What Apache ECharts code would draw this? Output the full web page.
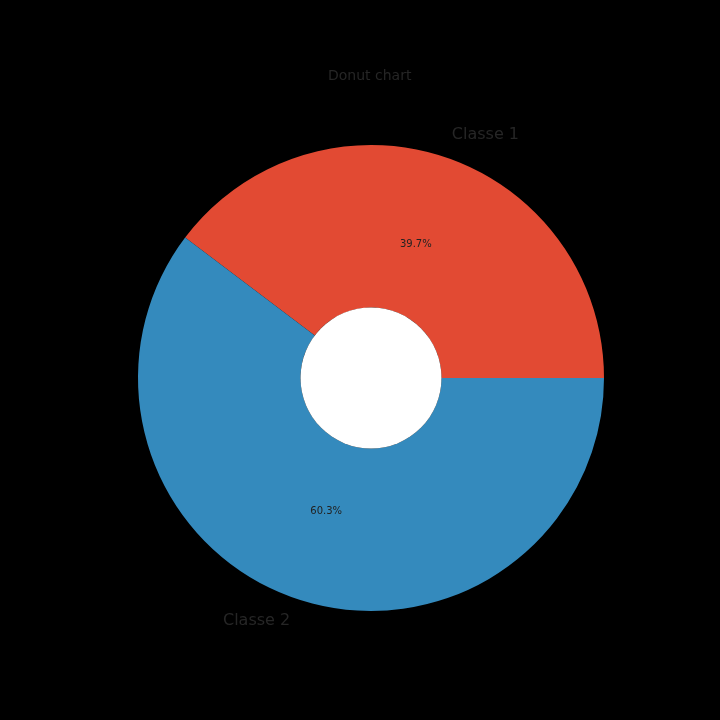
<!DOCTYPE html>
<html>
<head>
<meta charset="utf-8">
<script src="https://cdn.jsdelivr.net/npm/echarts@6/dist/echarts.min.js"></script>
<style>html,body{margin:0;padding:0;background:#000;}#c{width:720px;height:720px;}</style>
</head>
<body>
<div id="c"></div>
<script>
var categories = ['Classe 1', 'Classe 2'];
var values = [39.7, 60.3];
var colors = ['#E24A33', '#348ABD'];
var titleText = 'Donut chart';

var chart = echarts.init(document.getElementById('c'));
var FONT = 'DejaVu Sans';
var center = [371, 378];

function mk(fn) {
  return categories.map(function (c, i) { return fn(c, i); });
}

chart.setOption({
  backgroundColor: '#000000',
  animation: false,
  title: {
    text: titleText,
    left: 328, top: 69, padding: 0,
    textStyle: { color: '#262626', fontSize: 14, fontWeight: 'normal', fontFamily: FONT }
  },
  series: [
    {
      type: 'pie', center: center, radius: [70.5, 233],
      startAngle: 0, clockwise: false, silent: true,
      label: { show: false }, labelLine: { show: false },
      data: mk(function (c, i) { return { name: c, value: values[i], itemStyle: { color: colors[i], borderWidth: 0 } }; })
    },
    {
      type: 'pie', center: center, radius: [0, 70.5], silent: true,
      label: { show: false }, labelLine: { show: false },
      data: [{ name: 'hole', value: 1, itemStyle: { color: '#ffffff' } }]
    },
    {
      type: 'pie', center: center, radius: [0, 276],
      startAngle: 0, clockwise: false, silent: true,
      itemStyle: { color: 'rgba(0,0,0,0)' },
      label: {
        show: true, position: 'inside',
        formatter: function (p) { return p.value.toFixed(1) + '%'; },
        color: '#222222', fontSize: 10, fontFamily: FONT
      },
      labelLine: { show: false },
      data: mk(function (c, i) { return { name: c, value: values[i] }; })
    },
    {
      type: 'pie', center: center, radius: [0, 506],
      startAngle: 0, clockwise: false, silent: true,
      itemStyle: { color: 'rgba(0,0,0,0)' },
      label: {
        show: true, position: 'inside',
        formatter: '{b}', color: '#262626', fontSize: 16, fontFamily: FONT
      },
      labelLine: { show: false },
      data: mk(function (c, i) {
        return { name: c, value: values[i], label: { offset: [i === 0 ? 33 : -33, 0] } };
      })
    }
  ]
});
</script>
</body>
</html>
